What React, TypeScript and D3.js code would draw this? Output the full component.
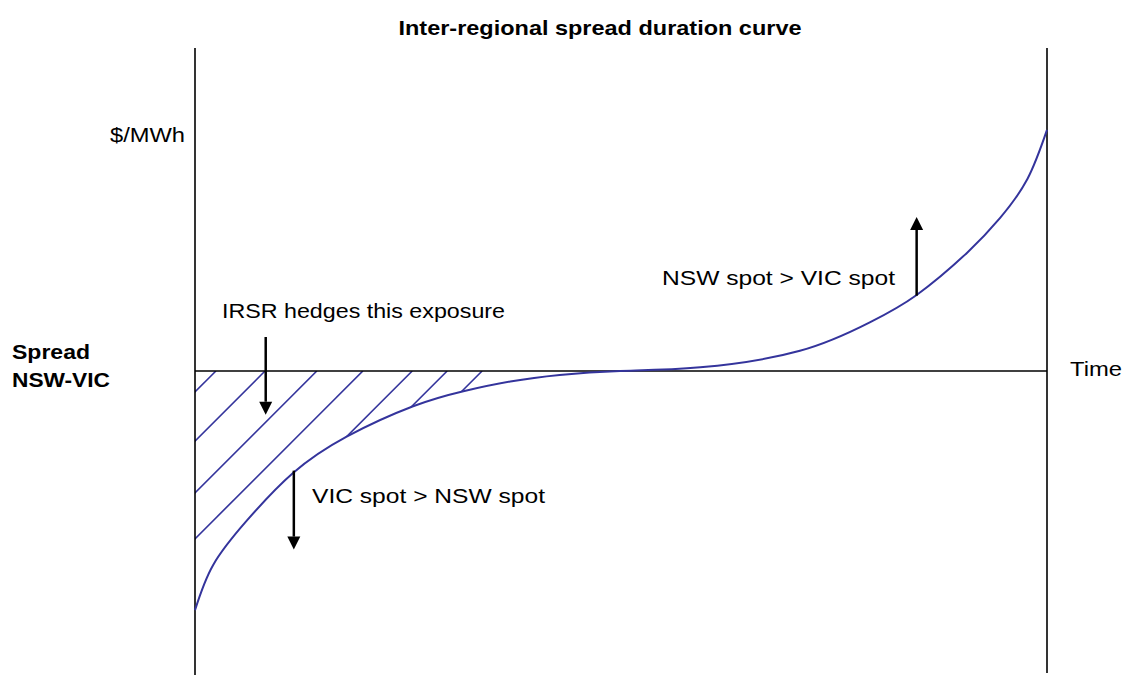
import React from "react";
import * as d3 from "d3";

// Duration curve (time %, spread $/MWh in arbitrary units)
const timePct = [0, 2.1, 6.1, 11.5, 17.8, 25.6, 31.5, 37, 42.8, 49.9, 59.3, 71, 79.2, 84.7, 90.6, 94.5, 97.7, 100];
const spread = [-98.4, -80, -61.5, -42, -27, -14.5, -8.3, -4.3, -1.6, 0, 1.5, 8.3, 20, 31.3, 48.6, 63, 79, 99.2];

// Hatch line starting points on the zero line (time %)
const hatchStarts = [2.46, 8.22, 14.3, 19.7, 25.5, 29.6, 33.7];

// Annotation arrows: x (time %), from / to (spread)
const arrowX = [8.3, 11.6, 84.7];
const arrowFrom = [14, -41, 31];
const arrowTo = [-18, -73.5, 63.4];

const W = 1125;
const H = 675;
const curveColor = "#34349c";
const font = "Liberation Sans, Arial, Helvetica, sans-serif";

export default function App() {
  const x = d3.scaleLinear().domain([0, 100]).range([195, 1047]);
  const y = d3.scaleLinear().domain([-100, 100]).range([614, 128]);
  const pts = timePct.map((t, i) => [t, spread[i]] as [number, number]);
  const line = d3
    .line<[number, number]>()
    .x((d) => x(d[0]))
    .y((d) => y(d[1]))
    .curve(d3.curveNatural);
  const negPts = pts.filter((d) => d[0] <= 49.9);
  const area = d3
    .area<[number, number]>()
    .x((d) => x(d[0]))
    .y0(y(0))
    .y1((d) => y(d[1]))
    .curve(d3.curveNatural);
  const y0 = y(0);

  const arrow = (i: number) => {
    const ax = x(arrowX[i]);
    const ya = y(arrowFrom[i]);
    const yb = y(arrowTo[i]);
    const dir = yb > ya ? 1 : -1;
    const hl = 13;
    const hw = 6.5;
    return (
      <g key={i}>
        <line x1={ax} x2={ax} y1={ya} y2={yb - dir * hl} stroke="#000" strokeWidth={2.5} />
        <polygon points={`${ax},${yb} ${ax - hw},${yb - dir * hl} ${ax + hw},${yb - dir * hl}`} fill="#000" />
      </g>
    );
  };

  const textStyle = { fontFamily: font, fontSize: 21, fill: "#000" } as const;

  return (
    <svg width={W} height={H} style={{ position: "absolute", left: 0, top: 0, background: "#fff" }}>
      <defs>
        <clipPath id="hatchClip">
          <path d={area(negPts) || ""} />
        </clipPath>
        <clipPath id="hatchBand">
          <rect x={x(0)} y={y0} width={x(50) - x(0)} height={190} />
        </clipPath>
      </defs>
      <rect x={0} y={0} width={W} height={H} fill="#fff" />
      <g clipPath="url(#hatchBand)">
        <g clipPath="url(#hatchClip)">
          {hatchStarts.map((h, i) => (
            <line key={i} x1={x(h)} y1={y0} x2={x(h) - 400} y2={y0 + 400} stroke={curveColor} strokeWidth={1.6} />
          ))}
        </g>
      </g>
      <line x1={195} x2={195} y1={48} y2={H} stroke="#000" strokeWidth={1.6} />
      <line x1={1047} x2={1047} y1={48} y2={673} stroke="#000" strokeWidth={1.6} />
      <line x1={x(0)} x2={x(100)} y1={y0} y2={y0} stroke="#000" strokeWidth={1.6} />
      <path d={line(pts) || ""} fill="none" stroke={curveColor} strokeWidth={2} />
      {arrowX.map((_, i) => arrow(i))}

      <text x={600} y={35} textAnchor="middle" style={{ ...textStyle, fontWeight: "bold" }} textLength={403} lengthAdjust="spacingAndGlyphs">
        Inter-regional spread duration curve
      </text>
      <text x={110} y={141.5} style={textStyle} textLength={75} lengthAdjust="spacingAndGlyphs">$/MWh</text>
      <text x={12} y={358.5} style={{ ...textStyle, fontWeight: "bold" }} textLength={78} lengthAdjust="spacingAndGlyphs">Spread</text>
      <text x={12} y={386.5} style={{ ...textStyle, fontWeight: "bold" }} textLength={98} lengthAdjust="spacingAndGlyphs">NSW-VIC</text>
      <text x={1070} y={376} style={textStyle} textLength={52} lengthAdjust="spacingAndGlyphs">Time</text>
      <text x={222} y={318} style={textStyle} textLength={283} lengthAdjust="spacingAndGlyphs">IRSR hedges this exposure</text>
      <text x={662} y={285} style={textStyle} textLength={233} lengthAdjust="spacingAndGlyphs">NSW spot &gt; VIC spot</text>
      <text x={312} y={503} style={textStyle} textLength={233} lengthAdjust="spacingAndGlyphs">VIC spot &gt; NSW spot</text>
    </svg>
  );
}
